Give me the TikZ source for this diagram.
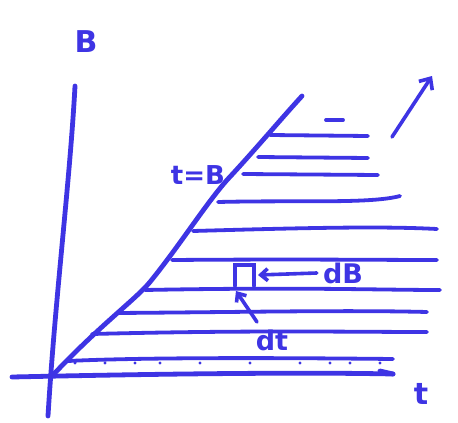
\documentclass[tikz,border=0pt]{standalone}
\usepackage{fontspec}
\setmainfont{DejaVu Sans}
\usetikzlibrary{arrows.meta}
\definecolor{ink}{RGB}{62,52,228}
\begin{document}
\begin{tikzpicture}[x=1pt,y=-1pt,
  pen/.style={draw=ink,line width=4.8pt,line cap=round,line join=round},
  hline/.style={draw=ink,line width=3.8pt,line cap=round},
  lbl/.style={text=ink,font=\bfseries\fontsize{30}{30}\selectfont,inner sep=0pt}]
\useasboundingbox (0,0) rectangle (458,423);
\fill[white] (0,0) rectangle (458,423);
% axes
\draw[pen] (75,86) .. controls (70,180) and (55,300) .. (48,416);
\draw[pen] (12,377) .. controls (150,374) and (300,372) .. (393,374);
\draw[pen] (380,371) -- (393,374);
% diagonal t=B
\draw[pen] (52,376) .. controls (100,325) and (135,300) .. (150,282) .. controls (180,245) and (205,205) .. (227,180) .. controls (255,150) and (280,120) .. (302,96);
% horizontal strips
\draw[hline] (326,120) -- (343,120);
\draw[hline] (270,135) -- (368,136);
\draw[hline] (258,157) -- (368,158);
\draw[hline] (243,174) -- (378,175);
\draw[hline] (218,202) .. controls (300,200) and (370,204) .. (400,196);
\draw[hline] (193,231) .. controls (300,228) and (380,226) .. (437,229);
\draw[hline] (172,260) .. controls (300,259) and (380,260) .. (437,260);
\draw[hline] (145,290) .. controls (300,287) and (380,290) .. (440,290);
\draw[hline] (117,313) .. controls (250,312) and (350,310) .. (427,312);
\draw[hline] (92,334) .. controls (250,330) and (350,332) .. (427,332);
\draw[hline] (68,361) .. controls (150,357) and (300,358) .. (393,359);
\foreach \x in {75,105,135,160,200,250,300,330,350,380} \fill[ink] (\x,363) circle (1.6pt);
% small element
\draw[hline,line width=3.4pt] (235,286) -- (235,265) -- (254,265) -- (254,286);
% labels
\node[lbl] (B) at (86,42) {B};
\node[lbl] (t) at (421,394) {t};
\node[lbl,font=\bfseries\fontsize{26}{26}\selectfont] (tB) at (198,175) {t=B};
\node[lbl,font=\bfseries\fontsize{27}{27}\selectfont] (dB) at (343,273) {dB};
\node[lbl,font=\bfseries\fontsize{27}{27}\selectfont] (dt) at (272,340) {dt};
\coordinate (sqR) at (258,275);
\coordinate (sqB) at (236,291);
\draw[pen,line width=3.6pt,-{Straight Barb[length=7pt,width=12pt]}] (dB.west) ++(-6,0) -- (sqR);
\draw[pen,line width=3.6pt,-{Straight Barb[length=7pt,width=12pt]}] (257,322) -- (sqB);
% direction arrow
\coordinate (ar1) at (392,137);
\coordinate (ar2) at (432,76);
\draw[pen,line width=3.6pt,-{Straight Barb[length=9pt,width=16pt]}] (ar1) -- (ar2);
\end{tikzpicture}
\end{document}
